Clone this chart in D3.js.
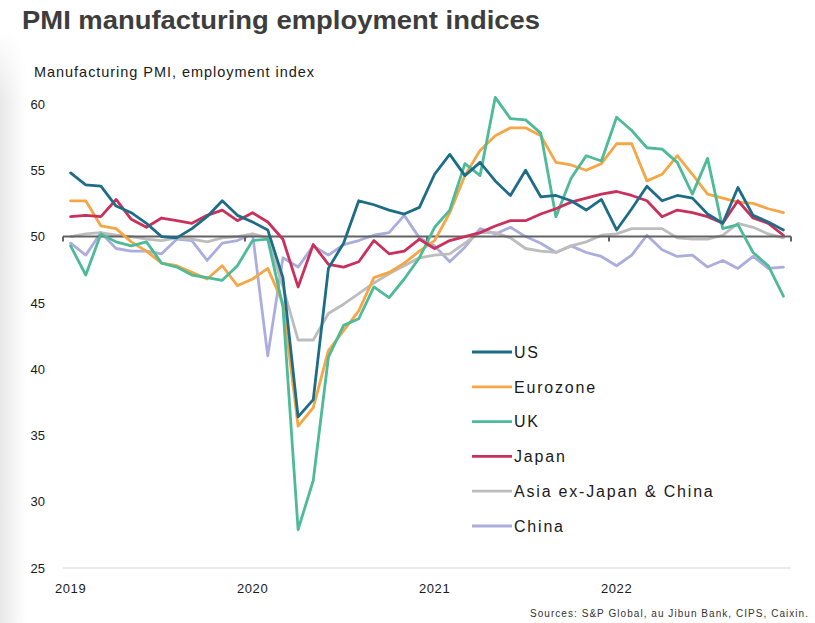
<!DOCTYPE html>
<html>
<head>
<meta charset="utf-8">
<script src="https://cdn.jsdelivr.net/npm/d3@7"></script>
<style>
  html, body { margin: 0; padding: 0; background: #fff; }
  svg { display: block; font-family: "Liberation Sans", Arial, sans-serif; }
</style>
</head>
<body>
<svg id="chart" width="815" height="623"></svg>
<script>
// Monthly manufacturing PMI employment indices, Jan 2019 – Dec 2022
const years = ["2019", "2020", "2021", "2022"];
const yTicks = [25, 30, 35, 40, 45, 50, 55, 60];

const us = [54.8,53.9,53.8,52.3,51.8,51.0,50.0,49.9,50.6,51.5,52.7,51.6,
            51.1,50.5,46.9,36.4,37.7,47.6,49.5,52.7,52.4,52.0,51.7,52.2,
            54.7,56.2,54.6,55.6,54.2,53.1,55.0,53.0,53.1,52.7,52.0,52.8,
            50.5,52.1,53.8,52.7,53.1,52.9,51.7,51.0,53.7,51.6,51.1,50.5];
const eurozone = [52.7,52.7,50.8,50.6,49.6,48.9,48.0,47.8,47.3,46.8,47.8,46.3,
                  46.8,47.6,45.0,35.7,37.1,41.4,42.9,44.4,46.9,47.3,48.0,48.9,
                  49.7,51.8,54.6,56.5,57.6,58.2,58.2,57.6,55.6,55.4,55.0,55.5,
                  57.0,57.0,54.2,54.7,56.1,54.7,53.2,52.9,52.6,52.5,52.1,51.8];
const uk = [49.3,47.1,50.2,49.6,49.3,49.6,48.0,47.7,47.1,46.9,46.7,47.8,
            49.7,49.8,44.7,27.9,31.6,40.9,43.3,43.8,46.2,45.4,46.8,48.4,
            50.7,52.0,55.5,54.6,60.5,58.9,58.8,57.8,51.5,54.4,56.1,55.7,
            59.0,58.0,56.7,56.6,55.6,53.2,55.9,50.6,50.9,48.8,47.8,45.5];
const japan = [51.5,51.6,51.5,52.8,51.3,50.7,51.4,51.2,51.0,51.6,52.0,51.2,
               51.8,51.1,49.8,46.2,49.4,47.9,47.7,48.1,49.7,48.7,48.9,49.8,
               49.1,49.7,50.0,50.3,50.8,51.2,51.2,51.7,52.1,52.6,52.9,53.2,
               53.4,53.1,52.7,51.5,52.0,51.8,51.5,51.0,52.7,51.4,51.0,50.1];
const asiaExJC = [50.0,50.2,50.3,50.1,50.0,49.8,49.7,49.9,49.8,49.6,49.9,50.0,
                  50.2,49.9,46.2,42.2,42.2,44.2,44.9,45.7,46.5,47.2,47.8,48.4,
                  48.6,48.7,49.5,50.3,50.3,49.9,49.1,48.9,48.8,49.3,49.6,50.1,
                  50.2,50.6,50.6,50.6,49.9,49.8,49.8,50.1,51.0,50.7,50.2,49.9];
const china = [49.5,48.6,50.3,49.1,48.9,48.9,48.7,49.8,49.7,48.2,49.5,49.7,
               50.2,41.0,48.4,47.7,49.3,48.6,49.4,49.7,50.1,50.3,51.6,49.9,
               49.3,48.1,49.2,50.6,50.2,50.7,50.0,49.5,48.8,49.3,48.8,48.5,
               47.8,48.6,50.1,49.0,48.5,48.6,47.7,48.2,47.6,48.5,47.6,47.7];

const seriesNames = ["US", "Eurozone", "UK", "Japan", "Asia ex-Japan & China", "China"];
const seriesValues = [us, eurozone, uk, japan, asiaExJC, china];
const seriesColors = ["#1d6d88", "#f5a645", "#4dba98", "#c9305c", "#bdbdbd", "#abaedd"];
// painting order (first drawn at the bottom)
const drawOrder = [5, 4, 1, 2, 3, 0];

const months = d3.timeMonths(new Date(2019, 0, 1), new Date(2023, 0, 1));

const svg = d3.select("#chart");

// soft grey strip at the left edge, fading out towards the right and the top
const defs = svg.append("defs");
const grad = defs.append("linearGradient")
  .attr("id", "edge").attr("x1", 0).attr("x2", 1).attr("y1", 0).attr("y2", 0);
grad.append("stop").attr("offset", 0).attr("stop-color", "#e8e8e8");
grad.append("stop").attr("offset", 1).attr("stop-color", "#ffffff");
const fade = defs.append("linearGradient")
  .attr("id", "edgeFade").attr("x1", 0).attr("x2", 0).attr("y1", 0).attr("y2", 1);
fade.append("stop").attr("offset", 0).attr("stop-color", "#000");
fade.append("stop").attr("offset", 0.12).attr("stop-color", "#fff");
fade.append("stop").attr("offset", 1).attr("stop-color", "#fff");
defs.append("mask").attr("id", "edgeMask")
  .append("rect").attr("x", 0).attr("y", 30).attr("width", 26).attr("height", 593)
  .attr("fill", "url(#edgeFade)");
svg.append("rect").attr("x", 0).attr("y", 30).attr("width", 26).attr("height", 593)
  .attr("fill", "url(#edge)").attr("mask", "url(#edgeMask)");

const x = d3.scaleBand().domain(months).range([63, 791]).padding(0);
const y = d3.scaleLinear().domain([25, 60]).range([568, 104]);
const cx = d => x(d) + x.bandwidth() / 2;

// Title and subtitle
svg.append("text")
  .attr("x", 22).attr("y", 29)
  .attr("font-size", 26).attr("font-weight", "bold").attr("fill", "#3d3d3d")
  .attr("textLength", 518).attr("lengthAdjust", "spacingAndGlyphs")
  .text("PMI manufacturing employment indices");

svg.append("text")
  .attr("x", 34).attr("y", 77)
  .attr("font-size", 14.5).attr("fill", "#1a1a1a")
  .attr("textLength", 280).attr("lengthAdjust", "spacing")
  .text("Manufacturing PMI, employment index");

// bottom baseline at 25
svg.append("line")
  .attr("x1", 63).attr("x2", 791)
  .attr("y1", y(25)).attr("y2", y(25))
  .attr("stroke", "#e4e4e4").attr("stroke-width", 1.5);

// Y axis labels
const yAxis = svg.append("g")
  .attr("transform", "translate(48,0)")
  .call(d3.axisLeft(y).tickValues(yTicks).tickSize(0).tickPadding(3));
yAxis.select(".domain").remove();
yAxis.selectAll("text")
  .attr("font-size", 13).attr("fill", "#1a1a1a")
  .attr("font-family", "'Liberation Sans', Arial, sans-serif");

// X axis labels under each January
const januaries = months.filter(d => d.getMonth() === 0);
const xAxis = svg.append("g")
  .attr("transform", "translate(0,578)")
  .call(d3.axisBottom(x).tickValues(januaries).tickSize(0).tickPadding(6)
    .tickFormat((d, i) => years[i]));
xAxis.select(".domain").remove();
xAxis.selectAll("text")
  .attr("font-size", 13).attr("fill", "#1a1a1a")
  .attr("letter-spacing", "0.6px")
  .attr("font-family", "'Liberation Sans', Arial, sans-serif");

const line = d3.line()
  .x((v, i) => cx(months[i]))
  .y(v => y(v));

const linesG = svg.append("g").attr("fill", "none")
  .attr("stroke-width", 2.8).attr("stroke-linejoin", "round").attr("stroke-linecap", "round");

function drawSeries(k) {
  linesG.append("path")
    .datum(seriesValues[k])
    .attr("stroke", seriesColors[k])
    .attr("d", line);
}

// grey series under the 50 line, coloured series above it
drawOrder.filter(k => k >= 4).forEach(drawSeries);

const ref = linesG.append("g").attr("stroke", "#636363").attr("stroke-width", 2).attr("stroke-linecap", "butt");
ref.append("line")
  .attr("x1", 63).attr("x2", 791)
  .attr("y1", y(50)).attr("y2", y(50));
const yearEdges = januaries.map(d => x(d)).concat([791]);
ref.selectAll("line.tick").data(yearEdges).join("line")
  .attr("class", "tick")
  .attr("x1", d => d).attr("x2", d => d)
  .attr("y1", y(50)).attr("y2", y(50) + 5);

drawOrder.filter(k => k < 4).forEach(drawSeries);

// Legend
const legend = svg.append("g").attr("transform", "translate(472,352)");
const rows = legend.selectAll("g").data(seriesNames).join("g")
  .attr("transform", (d, i) => `translate(0,${i * 34.8})`);
rows.append("line")
  .attr("x1", 0).attr("x2", 40).attr("y1", 0).attr("y2", 0)
  .attr("stroke", (d, i) => seriesColors[i]).attr("stroke-width", 2.8);
rows.append("text")
  .attr("x", 42).attr("y", 0).attr("dy", "0.36em")
  .attr("font-size", 16).attr("letter-spacing", "1.8px").attr("fill", "#1a1a1a")
  .text(d => d);

// Source note
svg.append("text")
  .attr("x", 808).attr("y", 617)
  .attr("text-anchor", "end")
  .attr("font-size", 10).attr("fill", "#333")
  .attr("textLength", 278).attr("lengthAdjust", "spacing")
  .text("Sources: S&P Global, au Jibun Bank, CIPS, Caixin.");
</script>
</body>
</html>
